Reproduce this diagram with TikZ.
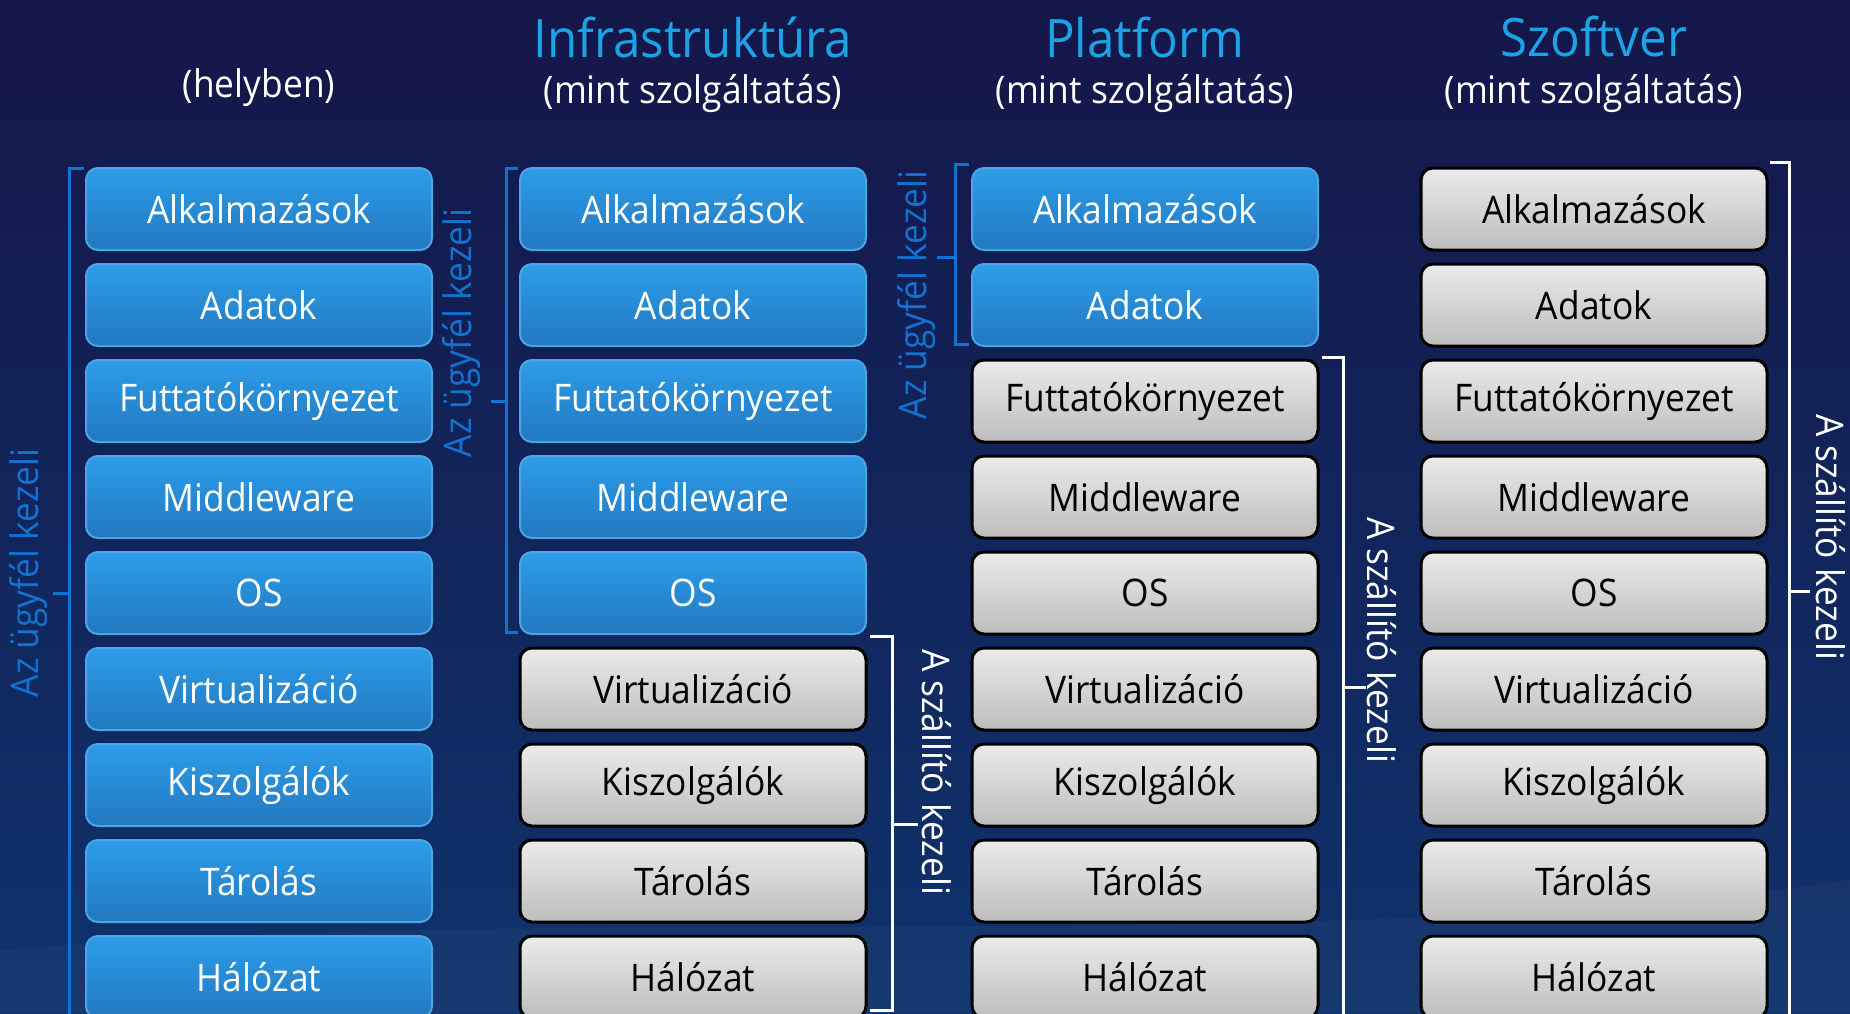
\documentclass[tikz,border=0pt]{standalone}
\usepackage{fontspec}
\setmainfont[FakeStretch=0.93]{Open Sans}
\usetikzlibrary{positioning}
\definecolor{hatter1}{HTML}{141649}
\definecolor{hatter2}{HTML}{0F336C}
\definecolor{kek1}{HTML}{2D9CE8}
\definecolor{kek2}{HTML}{2279C0}
\definecolor{kekkeret}{HTML}{4BA5E5}
\definecolor{szurke1}{HTML}{EBEBEB}
\definecolor{szurke2}{HTML}{BDBDBD}
\definecolor{fejkek}{HTML}{1CA3E6}
\definecolor{zarojel}{HTML}{1272CF}
\tikzset{
	doboz/.style={minimum width=346pt, minimum height=82pt, rounded corners=12pt, inner sep=0pt, font=\fontsize{38}{42}\selectfont},
	ugyfel/.style={doboz, top color=kek1, bottom color=kek2, draw=kekkeret, line width=2pt, text=white},
	szallito/.style={doboz, top color=szurke1, bottom color=szurke2, draw=black, line width=3pt, text=black},
	fej/.style={font=\fontsize{53}{58}\selectfont, text=fejkek},
	al/.style={font=\fontsize{38}{42}\selectfont, text=white},
	kekjel/.style={draw=zarojel, line width=3pt},
	feherjel/.style={draw=white, line width=3pt},
	oldal/.style={font=\fontsize{38}{42}\selectfont, inner sep=0pt},
}
\begin{document}
\begin{tikzpicture}[x=1pt,y=-1pt]
	\useasboundingbox (0,0) rectangle (1850,1013);
	\clip (0,0) rectangle (1850,1013);
	\shade[top color=hatter1, bottom color=hatter2] (0,0) rectangle (1850,1013);
	\fill[white, opacity=0.03] (0,950) .. controls (600,900) and (1300,960) .. (1850,880) -- (1850,1013) -- (0,1013) -- cycle;
	\foreach \x/\nb [count=\c] in {259/9, 693/5, 1145/2, 1594/0}{
		\foreach \lbl [count=\i] in {Alkalmazások, Adatok, Futtatókörnyezet, Middleware, OS, Virtualizáció, Kiszolgálók, Tárolás, Hálózat}{
			\ifnum\i>\nb \def\st{szallito}\else\def\st{ugyfel}\fi
			\node[\st] (c\c-\i) at (\x,{113+96*\i}) {\lbl};
		}
	}
	\node[al] (s1) at ([yshift=79pt]c1-1.north) {(helyben)};
	\node[al] (s2) at ([yshift=73pt]c2-1.north) {(mint szolgáltatás)};
	\node[al] (s3) at ([yshift=73pt]c3-1.north) {(mint szolgáltatás)};
	\node[al] (s4) at ([yshift=73pt]c4-1.north) {(mint szolgáltatás)};
	\node[fej] (h2) at ([yshift=57pt]s2) {Infrastruktúra};
	\node[fej] (h3) at ([yshift=57pt]s3) {Platform};
	\node[fej] (h4) at ([yshift=57pt]s4) {Szoftver};

	\draw[kekjel] ([xshift=-1pt,yshift=-1pt]c1-1.north west) -| ([xshift=-16pt]c1-9.south west);
	\draw[kekjel] ([xshift=-16pt]c1-5.west) -- ++(-16pt,0);
	\node[oldal, rotate=90, text=zarojel] (u1) at ([xshift=-56pt,yshift=20pt]c1-5.west) {Az ügyfél kezeli};

	\draw[kekjel] ([xshift=-1pt,yshift=-1pt]c2-1.north west) -| ([xshift=-13pt]c2-3.west) |- ([xshift=-1pt,yshift=3pt]c2-5.south west);
	\draw[kekjel] ([xshift=-13pt]c2-3.west) -- ++(-15pt,0);
	\node[oldal, rotate=90, text=zarojel] (u2) at ([xshift=-57pt,yshift=68pt]c2-3.west) {Az ügyfél kezeli};

	\draw[kekjel] ([xshift=-2pt,yshift=3pt]c3-1.north west) -| ([xshift=-16pt,yshift=3pt]c3-2.south west) -- ++(14pt,0);
	\draw[kekjel] ([xshift=-16pt,yshift=-48pt]c3-1.west) -- ++(-18pt,0);
	\node[oldal, rotate=90, text=zarojel] (u3) at ([xshift=-55pt,yshift=10pt]c3-2.west) {Az ügyfél kezeli};

	\draw[feherjel] ([xshift=2pt,yshift=10pt]c2-6.north east) -| ([xshift=25pt,yshift=9pt]c2-9.south east) -- ++(-23pt,0);
	\draw[feherjel] ([xshift=25pt,yshift=-39pt]c2-7.east) -- ++(25pt,0);
	\node[oldal, rotate=-90, text=white] (v2) at ([xshift=69pt,yshift=13pt]c2-7.east) {A szállító kezeli};

	\draw[feherjel] ([xshift=2pt,yshift=1pt]c3-3.north east) -| ([xshift=24pt]c3-9.south east);
	\draw[feherjel] ([xshift=24pt,yshift=2pt]c3-6.east) -- ++(22pt,0);
	\node[oldal, rotate=-90, text=white] (v3) at ([xshift=62pt,yshift=49pt]c3-6.east) {A szállító kezeli};

	\draw[feherjel] ([xshift=1pt,yshift=4pt]c4-1.north east) -| ([xshift=21pt]c4-9.south east);
	\draw[feherjel] ([xshift=21pt,yshift=2pt]c4-5.east) -- ++(20pt,0);
	\node[oldal, rotate=-90, text=white] (v4) at ([xshift=62pt,yshift=56pt]c4-5.east) {A szállító kezeli};
\end{tikzpicture}
\end{document}
